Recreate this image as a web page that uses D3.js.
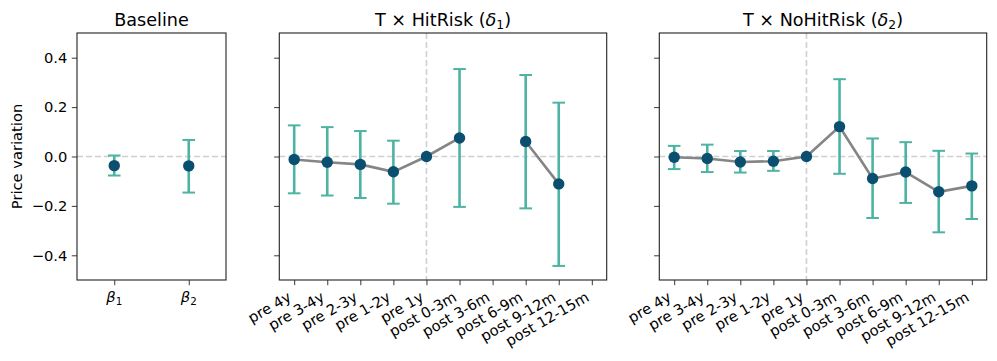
<!DOCTYPE html>
<html>
<head>
<meta charset="utf-8">
<script src="https://cdn.jsdelivr.net/npm/d3@7"></script>
<style>
  body { margin: 0; background: #fff; }
  svg { font-family: "DejaVu Sans", sans-serif; }
</style>
</head>
<body>
<svg width="997" height="361"></svg>
<script>
// data
var baseLabels = ["1", "2"];          // beta subscripts
var baseValues = [-0.037, -0.038];
var baseLow = [-0.077, -0.146];
var baseHigh = [0.004, 0.067];

var periods = ["pre 4y", "pre 3-4y", "pre 2-3y", "pre 1-2y", "pre 1y",
    "post 0-3m", "post 3-6m", "post 6-9m", "post 9-12m", "post 12-15m"];

// T x HitRisk (delta 1), null = not estimated
var hitValues = [-0.012, -0.023, -0.032, -0.062, 0, 0.075, null, 0.061, -0.111, null];
var hitLow = [-0.149, -0.158, -0.168, -0.191, null, -0.204, null, -0.210, -0.443, null];
var hitHigh = [0.126, 0.119, 0.103, 0.064, null, 0.354, null, 0.330, 0.218, null];

// T x NoHitRisk (delta 2)
var noHitValues = [-0.003, -0.008, -0.022, -0.019, 0, 0.121, -0.089, -0.063, -0.143, -0.119];
var noHitLow = [-0.051, -0.063, -0.065, -0.058, null, -0.070, -0.249, -0.188, -0.307, -0.253];
var noHitHigh = [0.043, 0.048, 0.022, 0.022, null, 0.313, 0.073, 0.058, 0.023, 0.012];

var yTicks = [-0.4, -0.2, 0.0, 0.2, 0.4];

var teal = "#4db3a3";
var navy = "#0a4f70";
var fs = 14.7;     // tick / label font
var tfs = 17.6;    // title font

var svg = d3.select("svg");
var top0 = 33, bottom0 = 280;

var y = d3.scaleLinear().domain([-0.5, 0.5]).range([bottom0, top0]);

function fmt(v) {
    return (v < 0 ? "\u2212" : "") + Math.abs(v).toFixed(1);
}

// draws one panel; returns group
function panel(x0, x1, xDomain, title, showY) {
    var g = svg.append("g");
    var x = d3.scaleLinear().domain(xDomain).range([x0, x1]);

    // zero line
    g.append("line")
        .attr("x1", x0).attr("x2", x1)
        .attr("y1", y(0)).attr("y2", y(0))
        .attr("stroke", "#d0d0d0").attr("stroke-width", 1.6)
        .attr("stroke-dasharray", "6,3");

    var yAxis = d3.axisLeft(y).tickValues(yTicks).tickSize(5.2).tickPadding(4.5)
        .tickFormat(showY ? fmt : "");
    var ya = g.append("g").attr("transform", "translate(" + x0 + ",0)").call(yAxis);
    ya.select(".domain").remove();
    ya.selectAll("line").attr("stroke", "#222").attr("stroke-width", 0.9);
    ya.selectAll("text").attr("font-size", fs + "px").attr("fill", "#000")
        .attr("font-family", "DejaVu Sans");

    g.append("text")
        .attr("x", (x0 + x1) / 2).attr("y", 26)
        .attr("text-anchor", "middle")
        .attr("font-size", tfs + "px")
        .call(title);

    return {g: g, x: x, x0: x0, x1: x1};
}

function frame(p) {
    p.g.append("rect")
        .attr("x", p.x0).attr("y", top0)
        .attr("width", p.x1 - p.x0).attr("height", bottom0 - top0)
        .attr("fill", "none").attr("stroke", "#222").attr("stroke-width", 1.1);
}

function errorbars(p, vals, lo, hi) {
    var idx = d3.range(vals.length).filter(function(i) { return lo[i] != null; });
    var eb = p.g.append("g").attr("stroke", teal).attr("stroke-width", 2.6);
    eb.selectAll(".v").data(idx).enter().append("line")
        .attr("x1", function(i) { return p.x(i); })
        .attr("x2", function(i) { return p.x(i); })
        .attr("y1", function(i) { return y(lo[i]); })
        .attr("y2", function(i) { return y(hi[i]); });
    eb.selectAll(".lo").data(idx).enter().append("line")
        .attr("x1", function(i) { return p.x(i) - 6.3; })
        .attr("x2", function(i) { return p.x(i) + 6.3; })
        .attr("y1", function(i) { return y(lo[i]); })
        .attr("y2", function(i) { return y(lo[i]); })
        .attr("stroke-width", 2);
    eb.selectAll(".hi").data(idx).enter().append("line")
        .attr("x1", function(i) { return p.x(i) - 6.3; })
        .attr("x2", function(i) { return p.x(i) + 6.3; })
        .attr("y1", function(i) { return y(hi[i]); })
        .attr("y2", function(i) { return y(hi[i]); })
        .attr("stroke-width", 2);
}

function markers(p, vals) {
    var idx = d3.range(vals.length).filter(function(i) { return vals[i] != null; });
    p.g.selectAll(".pt").data(idx).enter().append("circle")
        .attr("cx", function(i) { return p.x(i); })
        .attr("cy", function(i) { return y(vals[i]); })
        .attr("r", 5.7)
        .attr("fill", navy);
}

// ---- Baseline panel
var p1 = panel(77, 226, [-0.5, 1.5], function(t) { t.text("Baseline"); }, true);
errorbars(p1, baseValues, baseLow, baseHigh);
markers(p1, baseValues);
frame(p1);
var xa1 = p1.g.append("g").attr("transform", "translate(0," + bottom0 + ")")
    .call(d3.axisBottom(p1.x).tickValues([0, 1]).tickSize(5.2).tickFormat(""));
xa1.select(".domain").remove();
xa1.selectAll("line").attr("stroke", "#222").attr("stroke-width", 0.9);
baseLabels.forEach(function(s, i) {
    var t = p1.g.append("text")
        .attr("x", p1.x(i)).attr("y", 302)
        .attr("text-anchor", "middle").attr("font-size", fs + "px");
    t.append("tspan").attr("font-style", "italic").text("\u03b2");
    t.append("tspan").attr("font-size", "10.3px").attr("dy", 3).text(s);
});

svg.append("text")
    .attr("transform", "translate(22," + (top0 + bottom0) / 2 + ") rotate(-90)")
    .attr("text-anchor", "middle")
    .attr("font-size", fs + "px")
    .text("Price variation");

// ---- event-study panels
function eventPanel(x0, x1, titleText, sub, vals, lo, hi) {
    var p = panel(x0, x1, [-0.45, 9.45], function(t) {
        t.append("tspan").text(titleText + " (");
        t.append("tspan").attr("font-style", "italic").text("\u03b4");
        t.append("tspan").attr("font-size", "12.3px").attr("dy", 3).text(sub);
        t.append("tspan").attr("dy", -3).text(")");
    }, false);

    // vertical dashed line at pre 1y
    p.g.append("line")
        .attr("x1", p.x(4)).attr("x2", p.x(4))
        .attr("y1", top0).attr("y2", bottom0)
        .attr("stroke", "#d0d0d0").attr("stroke-width", 1.6)
        .attr("stroke-dasharray", "6,3");

    var line = d3.line()
        .defined(function(d) { return d != null; })
        .x(function(d, i) { return p.x(i); })
        .y(function(d) { return y(d); });
    p.g.append("path").datum(vals)
        .attr("d", line)
        .attr("fill", "none").attr("stroke", "#858585").attr("stroke-width", 2.6);

    errorbars(p, vals, lo, hi);
    markers(p, vals);
    frame(p);

    var xa = p.g.append("g").attr("transform", "translate(0," + bottom0 + ")")
        .call(d3.axisBottom(p.x).tickValues(d3.range(periods.length)).tickSize(5.2).tickFormat(""));
    xa.select(".domain").remove();
    xa.selectAll("line").attr("stroke", "#222").attr("stroke-width", 0.9);

    // rotated labels: bbox right edge on the tick, bbox top under the tick
    p.g.selectAll(".xl").data(periods).enter().append("text")
        .attr("transform", function(d, i) {
            return "translate(" + (p.x(i) - 1.8) + "," + (bottom0 + 20) + ") rotate(-30)";
        })
        .attr("text-anchor", "end")
        .attr("font-size", fs + "px")
        .text(function(d) { return d; });
}

eventPanel(279.3, 606.7, "T \u00d7 HitRisk", "1", hitValues, hitLow, hitHigh);
eventPanel(659.3, 986.7, "T \u00d7 NoHitRisk", "2", noHitValues, noHitLow, noHitHigh);
</script>
</body>
</html>
